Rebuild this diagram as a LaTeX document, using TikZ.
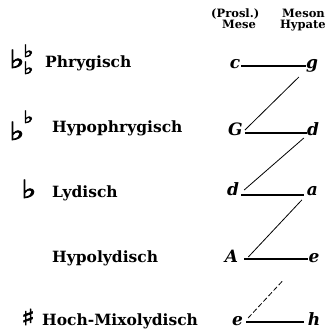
\documentclass[tikz,border=0pt]{standalone}
\usepackage{fontspec}
\setmainfont{DejaVu Serif}
\newfontfamily\symfont[FakeBold=3,FakeStretch=1.3]{DejaVu Sans}
\newcommand\bigflat{\makebox[14pt][l]{\fontsize{25}{27}\selectfont ♭}}
\newcommand\smallflat{{\fontsize{17}{19}\selectfont ♭}}
\begin{document}
\begin{tikzpicture}[x=1pt,y=-1pt,
  lbl/.style={inner sep=0pt,anchor=base west,font=\bfseries\fontsize{15.5}{18}\selectfont},
  hdr/.style={inner sep=0pt,font=\bfseries\fontsize{11.5}{13}\selectfont},
  note/.style={inner sep=0pt,anchor=base,font=\bfseries\itshape\fontsize{17}{19}\selectfont},
  acc/.style={inner sep=0pt,anchor=base west,font=\symfont\fontsize{25}{27}\selectfont},
  hline/.style={line width=1.1pt},
  dline/.style={line width=0.8pt}]
\useasboundingbox (0,0) rectangle (328,333);
% header
\node[hdr,anchor=base west] (h1) at (211,17) {(Prosl.)};
\node[hdr,anchor=base east] (h2) at (325,17) {Meson};
\node[hdr,anchor=base west] (h3) at (222,28) {Mese};
\node[hdr,anchor=base east] (h4) at (326,28) {Hypate};
% names
\node[lbl] (n1) at (45,67) {Phrygisch};
\node[lbl] (n2) at (52,132) {Hypophrygisch};
\node[lbl] (n3) at (52,197) {Lydisch};
\node[lbl] (n4) at (52,262) {Hypolydisch};
\node[lbl] (n5) at (42,325) {Hoch-Mixolydisch};
% accidentals
\node[acc] (f1) at (9,68) {\bigflat\rlap{\raisebox{11pt}{\smallflat}}\raisebox{-6pt}{\smallflat}};
\node[acc] (f2) at (9,140) {\bigflat\raisebox{17pt}{\smallflat}};
\node[acc] (f3) at (21,198) {♭};
\node[acc,font=\symfont\fontsize{22}{24}\selectfont] (s5) at (21,325) {♯};
% notes
\node[note] (c) at (235,68) {c};
\node[note] (g) at (312,68) {g};
\node[note] (G) at (235.5,135) {G};
\node[note] (d2) at (313,135) {d};
\node[note] (d3) at (233,195) {d};
\node[note] (a) at (312.5,195) {a};
\node[note] (A) at (231.5,262) {A};
\node[note] (e4) at (314,262) {e};
\node[note] (e5) at (237.5,325) {e};
\node[note] (h) at (314,325) {h};
% horizontal lines
\draw[hline] ([shift={(1pt,2pt)}]c.base east) -- ([shift={(0pt,2pt)}]g.base west);
\draw[hline] ([shift={(2pt,2pt)}]G.base east) -- ([shift={(0pt,2pt)}]d2.base west);
\draw[hline] ([shift={(2pt,0pt)}]d3.base east) -- ([shift={(-3pt,0pt)}]a.base west);
\draw[hline] ([shift={(6pt,3pt)}]A.base east) -- ([shift={(0pt,3pt)}]e4.base west);
\draw[hline] ([shift={(3pt,3pt)}]e5.base east) -- ([shift={(-4pt,3pt)}]h.base west);
% diagonals
\draw[dline] ([shift={(2pt,5pt)}]G.base east) -- ([shift={(-7pt,-9pt)}]g.base west);
\draw[dline] ([shift={(5pt,5pt)}]d3.base east) -- ([shift={(-3pt,-3pt)}]d2.base west);
\draw[dline] ([shift={(10pt,5pt)}]A.base east) -- ([shift={(-5pt,-5pt)}]a.base west);
\draw[dline,dash pattern=on 5pt off 2.5pt] ([shift={(5pt,7pt)}]e5.base east) -- ([shift={(-25pt,-18pt)}]e4.base west);
\end{tikzpicture}
\end{document}
